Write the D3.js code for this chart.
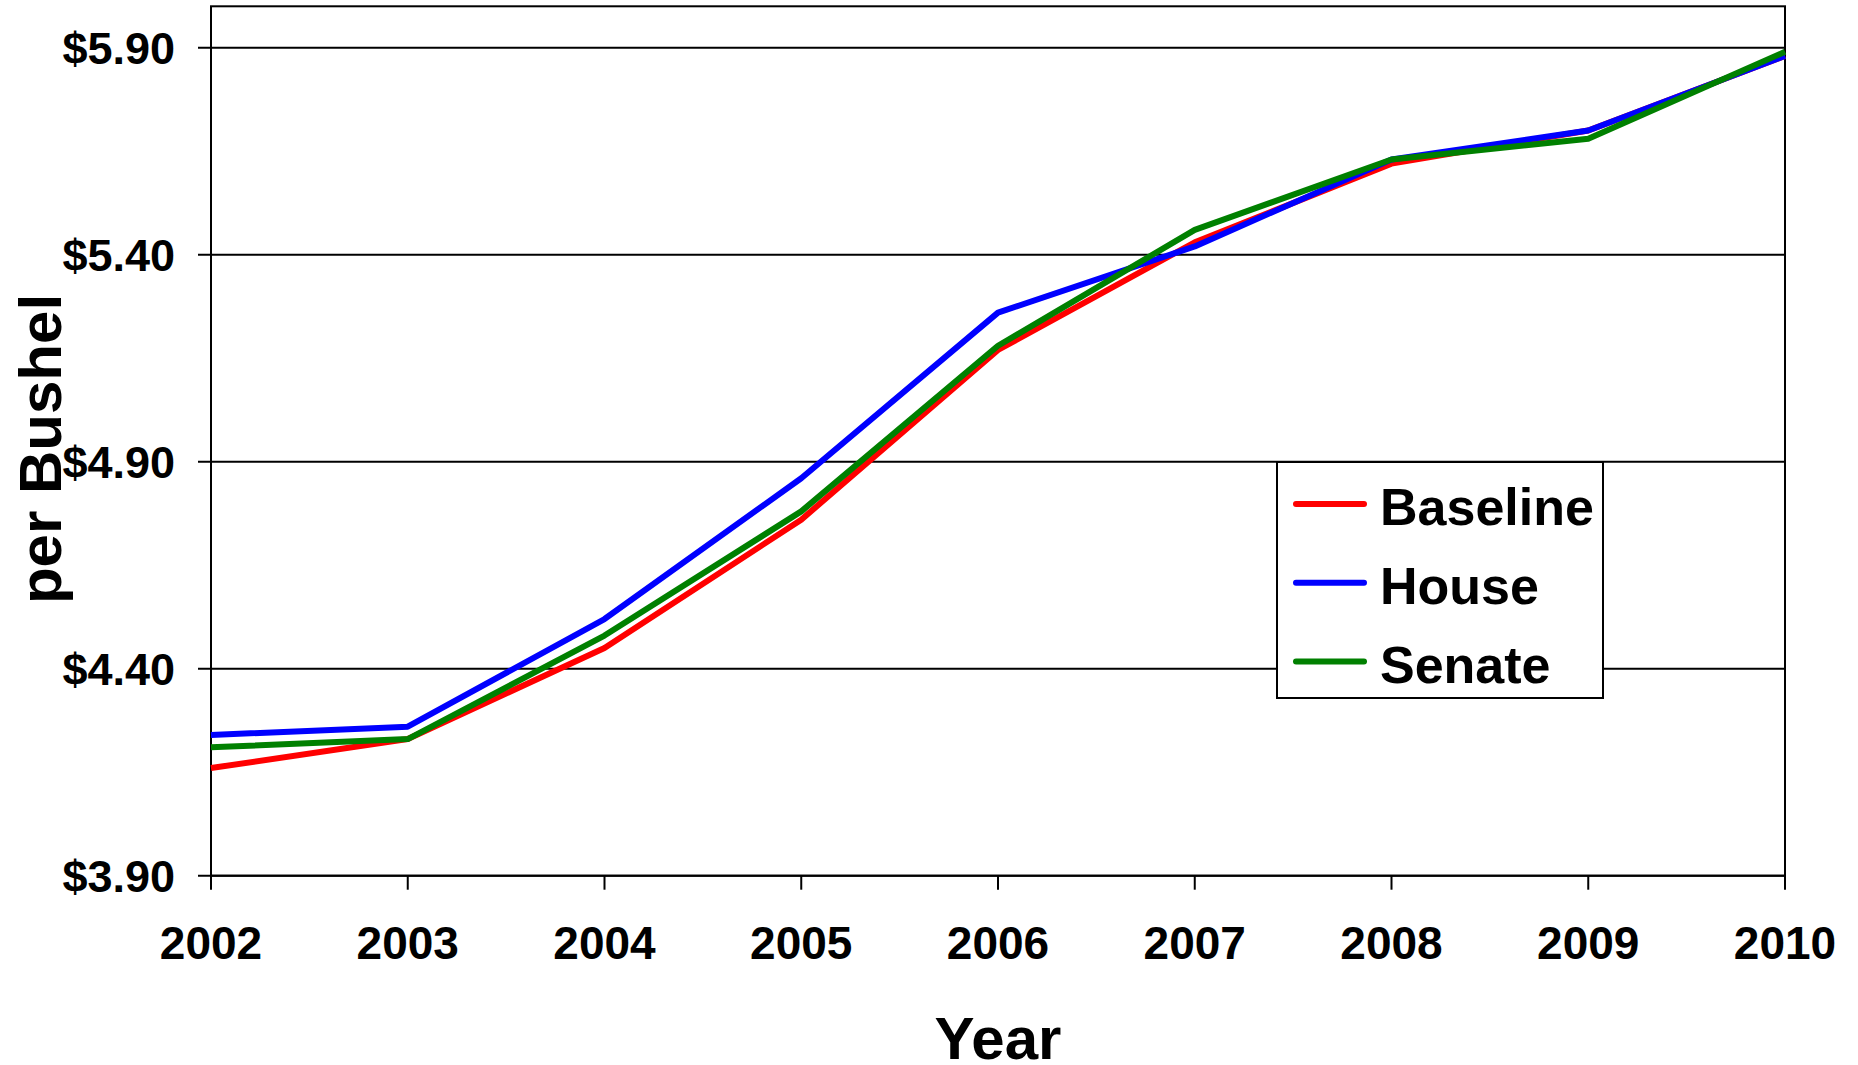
<!DOCTYPE html>
<html><head><meta charset="utf-8">
<script src="https://cdn.jsdelivr.net/npm/d3@7"></script>
<style>body{margin:0;background:#fff}svg{display:block}text{font-family:"Liberation Sans",Arial,sans-serif;font-weight:bold;fill:#000}</style>
</head><body>
<script>
const years = [2002, 2003, 2004, 2005, 2006, 2007, 2008, 2009, 2010];
const baseline = [4.16, 4.23, 4.45, 4.76, 5.17, 5.43, 5.62, 5.70, 5.88];
const house = [4.24, 4.26, 4.52, 4.86, 5.26, 5.42, 5.63, 5.70, 5.88];
const senate = [4.21, 4.23, 4.48, 4.78, 5.18, 5.46, 5.63, 5.68, 5.89];
const yTicks = [3.90, 4.40, 4.90, 5.40, 5.90];
const seriesNames = ["Baseline", "House", "Senate"];
const seriesColors = ["#ff0000", "#0000ff", "#008000"];

const W = 1858, H = 1065;
const L = 211, R = 1785, T = 6.3, B = 875.7;
const svg = d3.select("body").append("svg").attr("width", W).attr("height", H);
const x = d3.scaleLinear().domain([2002, 2010]).range([L, R]);
const y = d3.scaleLinear().domain([3.9, 6.0]).range([B, T]);

// gridlines
svg.append("g").selectAll("line").data(yTicks).join("line")
  .attr("x1", L - 13).attr("x2", R).attr("y1", d => y(d)).attr("y2", d => y(d))
  .attr("stroke", "#000").attr("stroke-width", 2);

// frame
svg.append("rect").attr("x", L).attr("y", T).attr("width", R - L).attr("height", B - T)
  .attr("fill", "none").attr("stroke", "#000").attr("stroke-width", 2);

// x ticks
svg.append("g").selectAll("line").data(years).join("line")
  .attr("x1", d => x(d)).attr("x2", d => x(d)).attr("y1", B).attr("y2", B + 14)
  .attr("stroke", "#000").attr("stroke-width", 2);
svg.append("g").selectAll("text").data(years).join("text")
  .attr("x", d => x(d)).attr("y", 959).attr("text-anchor", "middle")
  .style("font-size", "46px").text(d => d);

// y labels
svg.append("g").selectAll("text").data(yTicks).join("text")
  .attr("x", 175).attr("y", d => y(d) + 16).attr("text-anchor", "end")
  .style("font-size", "45px").text(d => "$" + d.toFixed(2));

// axis titles
svg.append("text").attr("x", (L + R) / 2).attr("y", 1059).attr("text-anchor", "middle")
  .style("font-size", "60px").text("Year");
svg.append("text").attr("transform", "translate(61,449) rotate(-90)")
  .attr("text-anchor", "middle").style("font-size", "60px").text("per Bushel");

// lines
const line = d3.line().x((d, i) => x(years[i])).y(d => y(d));
[baseline, house, senate].forEach((s, k) => {
  svg.append("path").datum(s).attr("d", line).attr("fill", "none")
    .attr("stroke", seriesColors[k]).attr("stroke-width", 6).attr("stroke-linejoin", "round");
});

// legend
const lg = svg.append("g");
lg.append("rect").attr("x", 1277).attr("y", 462).attr("width", 326).attr("height", 236)
  .attr("fill", "#fff").attr("stroke", "#000").attr("stroke-width", 2);
seriesNames.forEach((n, k) => {
  const cy = 504 + k * 78.8;
  lg.append("line").attr("x1", 1296).attr("x2", 1364).attr("y1", cy).attr("y2", cy)
    .attr("stroke", seriesColors[k]).attr("stroke-width", 6).attr("stroke-linecap", "round");
  lg.append("text").attr("x", 1380).attr("y", cy + 21).style("font-size", "52px").text(n);
});
</script>
</body></html>
